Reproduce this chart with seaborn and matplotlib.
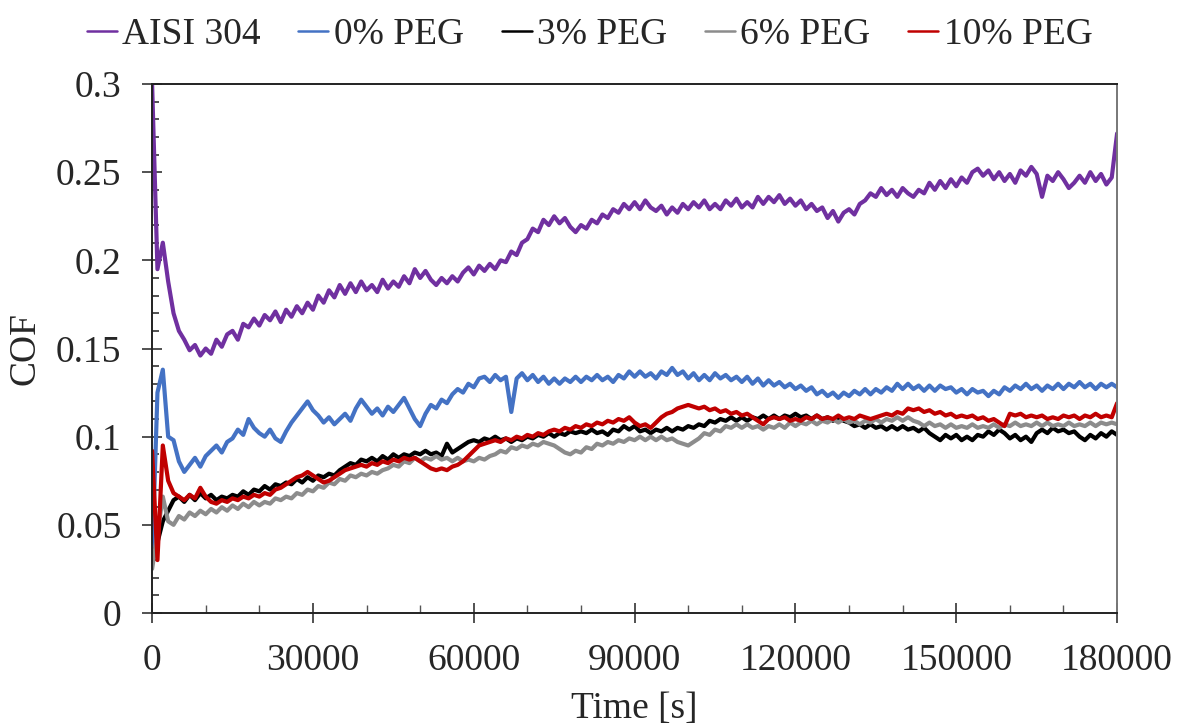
import numpy as np
import pandas as pd
import matplotlib.pyplot as plt
import seaborn as sns

# sampling grid of the recorded COF curves (one reading every 1000 s)
TIME_S = np.arange(0, 180001, 1000)

AISI_304 = [
    0.300, 0.195, 0.210, 0.188, 0.170, 0.160, 0.155, 0.149, 0.152, 0.146,
    0.150, 0.147, 0.155, 0.151, 0.158, 0.160, 0.155, 0.164, 0.162, 0.167,
    0.163, 0.169, 0.166, 0.171, 0.165, 0.172, 0.168, 0.174, 0.170, 0.176,
    0.172, 0.180, 0.176, 0.183, 0.179, 0.186, 0.181, 0.187, 0.182, 0.188,
    0.183, 0.186, 0.182, 0.189, 0.184, 0.188, 0.185, 0.191, 0.187, 0.195,
    0.190, 0.194, 0.189, 0.186, 0.190, 0.187, 0.191, 0.188, 0.193, 0.196,
    0.192, 0.197, 0.194, 0.198, 0.195, 0.200, 0.199, 0.205, 0.203, 0.210,
    0.212, 0.218, 0.216, 0.223, 0.220, 0.225, 0.221, 0.224, 0.219, 0.216,
    0.220, 0.218, 0.223, 0.221, 0.226, 0.224, 0.229, 0.227, 0.232, 0.229,
    0.233, 0.229, 0.234, 0.230, 0.228, 0.231, 0.226, 0.230, 0.227, 0.232,
    0.229, 0.233, 0.230, 0.234, 0.229, 0.232, 0.229, 0.234, 0.231, 0.235,
    0.230, 0.233, 0.230, 0.236, 0.232, 0.236, 0.233, 0.237, 0.232, 0.235,
    0.231, 0.234, 0.229, 0.232, 0.228, 0.230, 0.224, 0.228, 0.222, 0.227,
    0.229, 0.226, 0.232, 0.234, 0.238, 0.236, 0.241, 0.237, 0.240, 0.236,
    0.241, 0.238, 0.236, 0.240, 0.238, 0.244, 0.240, 0.245, 0.241, 0.246,
    0.242, 0.247, 0.244, 0.250, 0.252, 0.248, 0.251, 0.246, 0.250, 0.245,
    0.249, 0.244, 0.251, 0.248, 0.253, 0.249, 0.236, 0.248, 0.245, 0.250,
    0.246, 0.241, 0.244, 0.248, 0.244, 0.250, 0.245, 0.249, 0.243, 0.247,
    0.272,
]

PEG_0 = [
    0.030, 0.125, 0.138, 0.100, 0.098, 0.086, 0.080, 0.084, 0.088, 0.083,
    0.089, 0.092, 0.095, 0.091, 0.097, 0.099, 0.104, 0.101, 0.110, 0.105,
    0.102, 0.100, 0.104, 0.099, 0.097, 0.103, 0.108, 0.112, 0.116, 0.120,
    0.115, 0.112, 0.108, 0.111, 0.107, 0.110, 0.113, 0.109, 0.116, 0.121,
    0.117, 0.113, 0.116, 0.112, 0.117, 0.114, 0.118, 0.122, 0.116, 0.110,
    0.106, 0.113, 0.118, 0.116, 0.121, 0.119, 0.124, 0.127, 0.125, 0.130,
    0.128, 0.133, 0.134, 0.131, 0.135, 0.132, 0.134, 0.114, 0.133, 0.136,
    0.132, 0.135, 0.131, 0.134, 0.130, 0.133, 0.130, 0.133, 0.131, 0.134,
    0.131, 0.134, 0.132, 0.135, 0.132, 0.134, 0.131, 0.135, 0.133, 0.137,
    0.134, 0.137, 0.134, 0.136, 0.133, 0.137, 0.135, 0.139, 0.135, 0.137,
    0.133, 0.136, 0.132, 0.135, 0.132, 0.136, 0.133, 0.135, 0.132, 0.134,
    0.131, 0.134, 0.130, 0.133, 0.129, 0.132, 0.129, 0.131, 0.128, 0.130,
    0.127, 0.129, 0.126, 0.128, 0.124, 0.126, 0.123, 0.125, 0.122, 0.125,
    0.123, 0.126, 0.124, 0.127, 0.124, 0.127, 0.125, 0.128, 0.126, 0.130,
    0.127, 0.130, 0.127, 0.129, 0.126, 0.129, 0.126, 0.129, 0.127, 0.128,
    0.125, 0.127, 0.124, 0.127, 0.125, 0.126, 0.123, 0.126, 0.124, 0.128,
    0.126, 0.129, 0.127, 0.130, 0.127, 0.129, 0.126, 0.129, 0.127, 0.130,
    0.127, 0.130, 0.128, 0.131, 0.128, 0.130, 0.127, 0.130, 0.128, 0.130,
    0.128,
]

PEG_3 = [
    0.030, 0.040, 0.052, 0.058, 0.064, 0.066, 0.063, 0.067, 0.064, 0.068,
    0.065, 0.067, 0.064, 0.066, 0.065, 0.067, 0.066, 0.069, 0.067, 0.070,
    0.069, 0.072, 0.070, 0.073, 0.072, 0.074, 0.073, 0.076, 0.074, 0.077,
    0.075, 0.078, 0.077, 0.079, 0.078, 0.081, 0.083, 0.085, 0.084, 0.087,
    0.086, 0.088, 0.086, 0.089, 0.087, 0.090, 0.088, 0.090, 0.089, 0.091,
    0.090, 0.092, 0.090, 0.091, 0.089, 0.096, 0.091, 0.093, 0.095, 0.097,
    0.098, 0.097, 0.099, 0.098, 0.100, 0.098, 0.099, 0.097, 0.099, 0.098,
    0.100, 0.099, 0.101, 0.100, 0.102, 0.100, 0.102, 0.101, 0.103, 0.102,
    0.103, 0.102, 0.104, 0.102, 0.103, 0.101, 0.104, 0.103, 0.106, 0.104,
    0.106, 0.103, 0.104, 0.102, 0.104, 0.103, 0.105, 0.103, 0.105, 0.104,
    0.106, 0.105, 0.107, 0.106, 0.109, 0.108, 0.110, 0.109, 0.111, 0.109,
    0.111, 0.109, 0.111, 0.110, 0.112, 0.110, 0.112, 0.110, 0.112, 0.111,
    0.113, 0.111, 0.112, 0.110, 0.112, 0.110, 0.111, 0.109, 0.111, 0.109,
    0.108, 0.106, 0.107, 0.105, 0.107, 0.105, 0.106, 0.104, 0.106, 0.104,
    0.106, 0.104, 0.105, 0.103, 0.105, 0.102, 0.100, 0.098, 0.101, 0.099,
    0.101, 0.098, 0.100, 0.098, 0.101, 0.100, 0.103, 0.101, 0.104, 0.102,
    0.099, 0.101, 0.098, 0.100, 0.097, 0.102, 0.104, 0.102, 0.105, 0.103,
    0.104, 0.102, 0.103, 0.100, 0.098, 0.101, 0.099, 0.102, 0.100, 0.103,
    0.101,
]

PEG_6 = [
    0.025, 0.045, 0.066, 0.052, 0.050, 0.055, 0.053, 0.057, 0.055, 0.058,
    0.056, 0.059, 0.057, 0.060, 0.058, 0.061, 0.059, 0.062, 0.060, 0.063,
    0.061, 0.063, 0.062, 0.065, 0.064, 0.066, 0.065, 0.068, 0.067, 0.070,
    0.069, 0.072, 0.071, 0.074, 0.073, 0.076, 0.075, 0.078, 0.077, 0.079,
    0.078, 0.080, 0.079, 0.081, 0.082, 0.084, 0.083, 0.086, 0.085, 0.088,
    0.086, 0.088, 0.087, 0.089, 0.087, 0.088, 0.086, 0.088, 0.086, 0.087,
    0.086, 0.088, 0.087, 0.089, 0.090, 0.092, 0.091, 0.094, 0.093, 0.095,
    0.094, 0.096, 0.095, 0.097, 0.096, 0.095, 0.093, 0.091, 0.090, 0.092,
    0.091, 0.094, 0.093, 0.096, 0.095, 0.097, 0.096, 0.098, 0.097, 0.099,
    0.098, 0.100, 0.098, 0.100, 0.098, 0.100, 0.098, 0.099, 0.097, 0.096,
    0.095, 0.097, 0.099, 0.102, 0.101, 0.104, 0.103, 0.106, 0.105, 0.107,
    0.105, 0.107, 0.105, 0.106, 0.104, 0.106, 0.105, 0.107, 0.105, 0.108,
    0.106, 0.108, 0.107, 0.109, 0.107, 0.109, 0.108, 0.110, 0.108, 0.110,
    0.108, 0.109, 0.107, 0.109, 0.108, 0.110, 0.108, 0.110, 0.109, 0.111,
    0.109, 0.111, 0.109, 0.108, 0.106, 0.108, 0.106, 0.107, 0.105, 0.107,
    0.105, 0.106, 0.105, 0.107, 0.105, 0.106, 0.105, 0.107, 0.105, 0.107,
    0.106, 0.108, 0.106, 0.107, 0.106, 0.108, 0.106, 0.108, 0.106, 0.107,
    0.106, 0.108, 0.106, 0.107, 0.106, 0.108, 0.106, 0.108, 0.107, 0.108,
    0.107,
]

PEG_10 = [
    0.092, 0.030, 0.095, 0.075, 0.068, 0.066, 0.064, 0.067, 0.065, 0.071,
    0.066, 0.063, 0.062, 0.064, 0.063, 0.065, 0.064, 0.066, 0.065, 0.067,
    0.066, 0.068, 0.067, 0.070, 0.071, 0.073, 0.075, 0.077, 0.078, 0.080,
    0.078, 0.076, 0.074, 0.075, 0.077, 0.079, 0.081, 0.082, 0.083, 0.084,
    0.083, 0.085, 0.084, 0.086, 0.085, 0.087, 0.086, 0.088, 0.087, 0.088,
    0.086, 0.084, 0.082, 0.081, 0.082, 0.081, 0.083, 0.084, 0.086, 0.089,
    0.092, 0.095, 0.096, 0.097, 0.098, 0.097, 0.099, 0.098, 0.100, 0.099,
    0.101, 0.100, 0.102, 0.101, 0.103, 0.104, 0.103, 0.105, 0.104, 0.106,
    0.105, 0.107, 0.106, 0.108, 0.107, 0.109, 0.108, 0.110, 0.109, 0.111,
    0.108, 0.106, 0.107, 0.105, 0.108, 0.111, 0.113, 0.114, 0.116, 0.117,
    0.118, 0.117, 0.116, 0.117, 0.115, 0.116, 0.114, 0.115, 0.113, 0.114,
    0.112, 0.113, 0.111, 0.109, 0.107, 0.110, 0.111, 0.110, 0.111, 0.109,
    0.110, 0.109, 0.111, 0.110, 0.112, 0.110, 0.111, 0.110, 0.112, 0.110,
    0.111, 0.110, 0.112, 0.111, 0.110, 0.111, 0.112, 0.113, 0.112, 0.114,
    0.113, 0.116, 0.115, 0.116, 0.114, 0.115, 0.113, 0.114, 0.112, 0.113,
    0.111, 0.112, 0.111, 0.112, 0.110, 0.111, 0.109, 0.110, 0.108, 0.106,
    0.113, 0.112, 0.113, 0.111, 0.112, 0.111, 0.112, 0.110, 0.111, 0.110,
    0.112, 0.111, 0.112, 0.110, 0.112, 0.111, 0.113, 0.111, 0.112, 0.111,
    0.119,
]

SERIES = ["AISI 304", "0% PEG", "3% PEG", "6% PEG", "10% PEG"]
COLORS = ["#7030A0", "#4472C4", "#000000", "#8C8C8C", "#C00000"]

# long-form table for seaborn
frames = []
for name, vals in zip(SERIES, [AISI_304, PEG_0, PEG_3, PEG_6, PEG_10]):
    frames.append(pd.DataFrame({"Time": TIME_S, "COF": vals, "Sample": name}))
df = pd.concat(frames, ignore_index=True)

sns.set_style("ticks")
plt.rcParams["font.family"] = ["Liberation Serif", "DejaVu Serif"]

fig = plt.figure(figsize=(11.79, 7.25), dpi=100)
ax = fig.add_axes([0.129, 0.1545, 0.8185, 0.7296])

sns.lineplot(data=df, x="Time", y="COF", hue="Sample", hue_order=SERIES,
             palette=COLORS, estimator=None, sort=False, linewidth=3.0,
             ax=ax, legend=False)

ax.set_xlim(0, 180000)
ax.set_ylim(0, 0.3)
ax.set_xticks(range(0, 180001, 30000))
ax.set_xticks(range(0, 180001, 10000), minor=True)
ax.set_yticks([0, 0.05, 0.1, 0.15, 0.2, 0.25, 0.3])
ax.set_yticklabels(["0", "0.05", "0.1", "0.15", "0.2", "0.25", "0.3"])
ax.set_yticks(np.arange(0, 0.301, 0.01), minor=True)

ax.tick_params(axis="both", which="major", direction="inout", length=14,
               width=1.2, labelsize=27, color="#333333", pad=15)
ax.tick_params(axis="y", which="minor", direction="in", length=5, width=1.2,
               color="#333333")
ax.tick_params(axis="x", which="minor", direction="in", length=6, width=1.0,
               color="#555555")

for side in ["left", "bottom", "top"]:
    ax.spines[side].set_color("#222222")
    ax.spines[side].set_linewidth(1.4)
ax.spines["right"].set_color("#777777")
ax.spines["right"].set_linewidth(1.4)

ax.set_xlabel("Time [s]", fontsize=27, labelpad=10)
ax.set_ylabel("COF", fontsize=27, labelpad=10)

handles = [plt.Line2D([], [], color=c, linewidth=1.8) for c in COLORS]
fig.legend(handles, SERIES, loc="center", bbox_to_anchor=(0.5, 0.952),
           ncol=5, frameon=False, fontsize=27, handlelength=0.8,
           handletextpad=0.15, columnspacing=1.0, borderaxespad=0)

fig.savefig("out.png", dpi=100)
